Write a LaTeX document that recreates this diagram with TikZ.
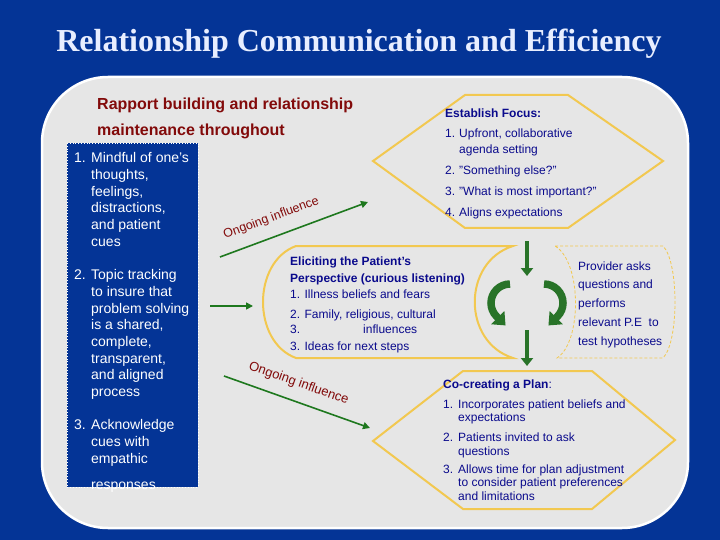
\documentclass[tikz,border=0pt]{standalone}
\usepackage{fontspec}
\setmainfont{Liberation Sans}
\newfontfamily\titlefont{Liberation Serif}
\usepackage{tikz}
\usetikzlibrary{positioning}
\usetikzlibrary{arrows.meta}
\definecolor{bgblue}{RGB}{4,52,150}
\definecolor{panelgray}{RGB}{230,230,230}
\definecolor{hexyellow}{RGB}{242,200,80}
\definecolor{textblue}{RGB}{10,10,140}
\definecolor{rapportred}{RGB}{130,10,10}
\definecolor{flowgreen}{RGB}{30,120,30}
\definecolor{cyclegreen}{RGB}{40,115,40}
\newcommand\numlab[2][15pt]{\makebox[#1][l]{#2}}
\newcommand\contind[1][15pt]{\hspace*{#1}}
\tikzset{
  txt/.style={anchor=base west, inner sep=0pt, align=left},
  hexline/.style={draw=hexyellow, line width=2pt},
  flowarrow/.style={draw=flowgreen, line width=1.6pt, -{Triangle[length=7pt,width=7pt]}},
  downarrow/.style={draw=cyclegreen, line width=4.5pt, -{Triangle[length=8pt,width=12pt]}},
  cyclearrow/.style={draw=cyclegreen, line width=7.5pt, -{Triangle[length=11pt,width=18pt]}},
  inflabel/.style={inner sep=0pt, text=rapportred}
}
\begin{document}
\begin{tikzpicture}[x=1pt,y=-1pt]
\useasboundingbox (0,0) rectangle (720,540);
\fill[bgblue] (0,0) rectangle (720,540);
\node[anchor=base, inner sep=0pt, text={rgb,255:red,232;green,238;blue,255}, font=\titlefont\fontsize{32}{36}\selectfont\bfseries] (title) at (359,52) {Relationship Communication and Efficiency};
% panel
\draw[fill=panelgray, draw=white, line width=2.5pt, rounded corners=66pt] (42,77) rectangle (688,528);
% left box (anchored at the last baseline)
\draw[white, dotted, line width=0.8pt, fill=bgblue] (67,143) rectangle (198,487);
\node[txt, text=white, font=\fontsize{14}{16.7}\selectfont] (mindful) at (74,489)
  {\numlab[17pt]{1.}Mindful of one's\\ \contind[17pt]thoughts,\\ \contind[17pt]feelings,\\ \contind[17pt]distractions,\\ \contind[17pt]and patient\\ \contind[17pt]cues\\[16.7pt]
   \numlab[17pt]{2.}Topic tracking\\ \contind[17pt]to insure that\\ \contind[17pt]problem solving\\ \contind[17pt]is a shared,\\ \contind[17pt]complete,\\ \contind[17pt]transparent,\\ \contind[17pt]and aligned\\ \contind[17pt]process\\[16.7pt]
   \numlab[17pt]{3.}Acknowledge\\ \contind[17pt]cues with\\ \contind[17pt]empathic\\[9pt] \contind[17pt]responses};
\node[txt, text=rapportred, font=\fontsize{16}{26}\selectfont\bfseries] (rapport) at (97,136)
  {Rapport building and relationship\\maintenance throughout};
% establish focus
\draw[hexline] (373,161) -- (465,95) -- (568,95) -- (663,161) -- (568,228) -- (465,228) -- cycle;
\node[txt, text=textblue, font=\fontsize{12}{16}\selectfont] (focus) at (445,217)
  {\textbf{Establish Focus:}\\[5pt]
   \numlab[14pt]{1.}Upfront, collaborative\\ \contind[14pt]agenda setting\\[4pt]
   \numlab[14pt]{2.}"Something else?"\\[6pt]
   \numlab[14pt]{3.}"What is most important?"\\[5pt]
   \numlab[14pt]{4.}Aligns expectations};
% eliciting
\draw[hexline] (296,246) -- (513,246) .. controls (462,262) and (462,342) .. (513,358)
  -- (296,358) .. controls (252,342) and (252,262) .. cycle;
\node[txt, text=textblue, font=\fontsize{12}{16}\selectfont] (elicit) at (290,350)
  {\textbf{Eliciting the Patient's}\\[1pt]
   \textbf{Perspective (curious listening)}\\
   1. Illness beliefs and fears\\[4pt]
   2. Family, religious, cultural\\[-1pt]
   \makebox[73pt][l]{3.}influences\\[1pt]
   3. Ideas for next steps};
% provider
\draw[draw=hexyellow, line width=0.8pt, dash pattern=on 3pt off 2pt] (555,246) -- (663,246)
  .. controls (679,262) and (679,342) .. (663,358) -- (557,358)
  .. controls (582,342) and (582,262) .. cycle;
\node[txt, text=textblue, font=\fontsize{12}{18.7}\selectfont] (provider) at (578,345)
  {Provider asks\\questions and\\performs\\relevant P.E\ \ to\\test hypotheses};
% co-creating
\draw[hexline] (373,441) -- (463,371) -- (592,371) -- (675,440) -- (592,509) -- (463,509) -- cycle;
\node[txt, text=textblue, font=\fontsize{12}{13.5}\selectfont] (plan) at (443,500)
  {\textbf{Co-creating a Plan}:\\[6.5pt]
   \numlab{1.}Incorporates patient beliefs and\\ \contind expectations\\[6.5pt]
   \numlab{2.}Patients invited to ask\\ \contind questions\\[4.5pt]
   \numlab{3.}Allows time for plan adjustment\\ \contind to consider patient preferences\\ \contind and limitations};
% arrows
\coordinate (in1s) at (220,257);
\coordinate (in1e) at (368,202);
\coordinate (in2s) at (210,306);
\coordinate (in2e) at (253,306);
\coordinate (in3s) at (224,376);
\coordinate (in3e) at (370,428);
\draw[flowarrow] (in1s) -- node[sloped, above=12pt, pos=0.39, inflabel, font=\fontsize{12.5}{14}\selectfont] {Ongoing influence} (in1e);
\draw[flowarrow] (in2s) -- (in2e);
\draw[flowarrow] (in3s) -- node[sloped, above=11pt, pos=0.47, inflabel, font=\fontsize{13}{15}\selectfont] {Ongoing influence} (in3e);
\coordinate (d1s) at (527,241);
\coordinate (d1e) at (527,276);
\coordinate (d2s) at (527,330);
\coordinate (d2e) at (527,366);
\draw[downarrow] (d1s) -- (d1e);
\draw[downarrow] (d2s) -- (d2e);
% cycle arrows
\draw[cyclearrow] (510,284) arc[start angle=270, end angle=135, radius=19] -- ++(9,9);
\draw[cyclearrow] (544,284) arc[start angle=270, end angle=405, radius=19] -- ++(-9,9);
\end{tikzpicture}
\end{document}
